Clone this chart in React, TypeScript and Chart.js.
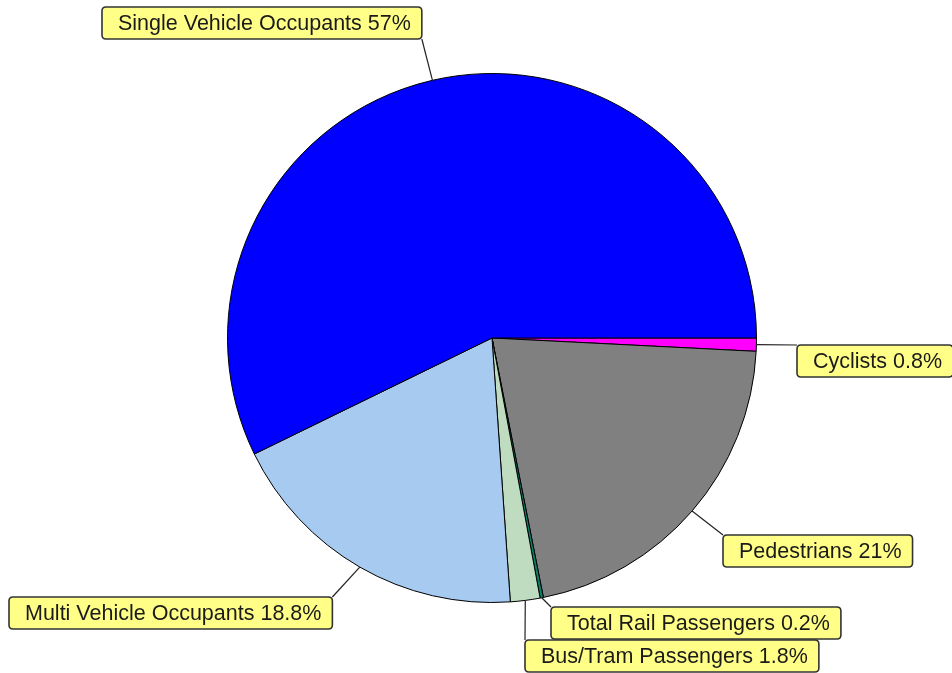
import React, { useEffect, useRef } from "react";
import { Chart, registerables } from "chart.js";

Chart.register(...registerables);

const categories = [
  "Cyclists",
  "Pedestrians",
  "Total Rail Passengers",
  "Bus/Tram Passengers",
  "Multi Vehicle Occupants",
  "Single Vehicle Occupants",
];
const values = [0.8, 21, 0.2, 1.8, 18.8, 57];
const sliceColors = ["#FF00FF", "#808080", "#0A7F6A", "#C0DCC0", "#A6CAF0", "#0000FF"];

// label box placement: left, top, and where the leader meets the box
const labelBoxes: { x: number; y: number; anchor: "tl" | "tr" | "br" }[] = [
  { x: 797, y: 345, anchor: "tl" },
  { x: 723, y: 535, anchor: "tl" },
  { x: 551, y: 607, anchor: "tl" },
  { x: 525, y: 640, anchor: "tl" },
  { x: 9, y: 597, anchor: "tr" },
  { x: 102, y: 7, anchor: "br" },
];

const labelPlugin = {
  id: "calloutLabels",
  afterDraw(chart: any) {
    const ctx: CanvasRenderingContext2D = chart.ctx;
    const meta = chart.getDatasetMeta(0);
    ctx.save();
    ctx.font = '21.5px "Liberation Sans", Arial, sans-serif';
    const boxes = categories.map((c, i) => {
      const text = `${c} ${values[i]}%`;
      const w = ctx.measureText(text).width + 27;
      const h = 32;
      const b = labelBoxes[i];
      return { text, x: b.x, y: b.y, w, h, anchor: b.anchor };
    });
    ctx.strokeStyle = "#222";
    ctx.lineWidth = 1.2;
    meta.data.forEach((arc: any, i: number) => {
      const p = arc.getProps(["x", "y", "startAngle", "endAngle", "outerRadius"], true);
      const mid = (p.startAngle + p.endAngle) / 2;
      const sx = p.x + Math.cos(mid) * p.outerRadius;
      const sy = p.y + Math.sin(mid) * p.outerRadius;
      const b = boxes[i];
      let ex = b.x, ey = b.y;
      if (b.anchor === "tr") { ex = b.x + b.w; ey = b.y; }
      if (b.anchor === "br") { ex = b.x + b.w; ey = b.y + b.h; }
      ctx.beginPath();
      ctx.moveTo(sx, sy);
      ctx.lineTo(ex, ey);
      ctx.stroke();
    });
    boxes.forEach((b) => {
      ctx.beginPath();
      const r = 4;
      ctx.moveTo(b.x + r, b.y);
      ctx.lineTo(b.x + b.w - r, b.y);
      ctx.quadraticCurveTo(b.x + b.w, b.y, b.x + b.w, b.y + r);
      ctx.lineTo(b.x + b.w, b.y + b.h - r);
      ctx.quadraticCurveTo(b.x + b.w, b.y + b.h, b.x + b.w - r, b.y + b.h);
      ctx.lineTo(b.x + r, b.y + b.h);
      ctx.quadraticCurveTo(b.x, b.y + b.h, b.x, b.y + b.h - r);
      ctx.lineTo(b.x, b.y + r);
      ctx.quadraticCurveTo(b.x, b.y, b.x + r, b.y);
      ctx.closePath();
      ctx.fillStyle = "#FFFF88";
      ctx.fill();
      ctx.strokeStyle = "#333";
      ctx.lineWidth = 1.6;
      ctx.stroke();
      ctx.fillStyle = "#1a1a1a";
      ctx.textBaseline = "middle";
      ctx.textAlign = "left";
      ctx.fillText(b.text, b.x + 16, b.y + b.h / 2 + 1);
    });
    ctx.restore();
  },
};

export default function App() {
  const ref = useRef<HTMLCanvasElement>(null);
  useEffect(() => {
    document.body.style.margin = "0";
    const chart = new Chart(ref.current!, {
      type: "pie",
      data: {
        labels: categories,
        datasets: [
          {
            data: values,
            backgroundColor: sliceColors,
            borderColor: "#000",
            borderWidth: 1,
          },
        ],
      },
      options: {
        responsive: false,
        animation: false,
        rotation: 90,
        layout: { padding: { left: 227, right: 195, top: 73, bottom: 70 } },
        plugins: { legend: { display: false }, tooltip: { enabled: false } },
      },
      plugins: [labelPlugin],
    });
    return () => chart.destroy();
  }, []);
  return (
    <div style={{ width: 952, height: 673, background: "#fff" }}>
      <canvas ref={ref} width={952} height={673} style={{ display: "block" }} />
    </div>
  );
}
